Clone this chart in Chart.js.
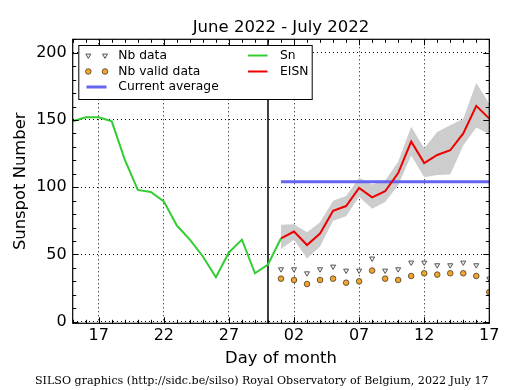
<!DOCTYPE html>
<html><head><meta charset="utf-8">
<script src="https://cdn.jsdelivr.net/npm/chart.js@4"></script>
<style>html,body{margin:0;padding:0;background:#fff;overflow:hidden}</style>
</head><body>
<canvas id="c" width="515" height="390"></canvas>
<script>
// ---------- data ----------
const startDate = '2022-06-15';
const endDate = '2022-07-17';
const snDates = ['2022-06-15','2022-06-16','2022-06-17','2022-06-18','2022-06-19','2022-06-20','2022-06-21','2022-06-22','2022-06-23','2022-06-24','2022-06-25','2022-06-26','2022-06-27','2022-06-28','2022-06-29','2022-06-30','2022-07-01'];
const snValues = [149, 152, 152, 149, 120.5, 98, 96.5, 89.5, 71.5, 61, 48.5, 33, 51.5, 61, 36, 42.5, 62];
const eisnDates = ['2022-07-01','2022-07-02','2022-07-03','2022-07-04','2022-07-05','2022-07-06','2022-07-07','2022-07-08','2022-07-09','2022-07-10','2022-07-11','2022-07-12','2022-07-13','2022-07-14','2022-07-15','2022-07-16','2022-07-17'];
const eisnValues = [62, 67, 57, 65.5, 82.5, 86, 99.5, 92.5, 97, 110.5, 134, 118, 124, 127.5, 140, 160.5, 151];
const eisnUpper  = [72, 72.5, 66.5, 74, 90, 93.5, 107, 102, 105, 119, 145, 129, 141, 146, 151, 177.5, 162];
const eisnLower  = [54, 61, 47, 56, 75, 78.5, 93, 84, 89, 101.5, 123.5, 107.5, 109, 109.5, 131, 144.5, 139.5];
const nbData  = [39, 39, 36, 39, 41, 38, 38, 47, 38, 39, 44, 44, 42, 42, 44, 42, 32];
const nbValid = [32, 31, 28, 31, 32, 29, 30, 38, 32, 31, 34, 36, 35, 36, 36, 34, 22];
const currentAverage = 104;
const averageDates = ['2022-07-01','2022-07-17'];
const separatorDate = '2022-06-30';
const tickDates = ['2022-06-17','2022-06-22','2022-06-27','2022-07-02','2022-07-07','2022-07-12','2022-07-17'];
const tickLabels = ['17','22','27','02','07','12','17'];
const yTicks = [0, 50, 100, 150, 200];
const yMinorStep = 10;
const titleText = 'June 2022 - July 2022';
const xTitle = 'Day of month';
const yTitle = 'Sunspot Number';
const footerText = 'SILSO graphics (http://sidc.be/silso) Royal Observatory of Belgium, 2022 July 17';

// ---------- helpers ----------
const DAY = 86400000;
const toX = d => (Date.parse(d) - Date.parse(startDate)) / DAY;
const xMax = toX(endDate);
const pts = (dates, vals) => dates.map((d, i) => ({x: toX(d), y: vals[i]}));

const FONT = 'DejaVu Sans';
const C_GREEN = '#33cc33', C_RED = '#ee0000', C_BLUE = '#6464f0', C_BAND = '#cdcdcd';
const C_ORANGE = '#efa532', C_TRI = '#f2f2f2';

const decor = {
  id: 'decor',
  beforeDatasetsDraw(chart) {
    const {ctx, chartArea: a, scales: {x}} = chart;
    ctx.save();
    ctx.strokeStyle = '#000'; ctx.lineWidth = 1.5;
    const sx = x.getPixelForValue(toX(separatorDate));
    ctx.beginPath(); ctx.moveTo(sx, a.top); ctx.lineTo(sx, a.bottom); ctx.stroke();
    ctx.restore();
  },
  afterDraw(chart) {
    const {ctx, chartArea: a, scales: {x, y}} = chart;
    ctx.save();
    // frame
    ctx.strokeStyle = '#000'; ctx.lineWidth = 1.2;
    ctx.strokeRect(a.left, a.top, a.right - a.left, a.bottom - a.top);
    // ticks
    ctx.lineWidth = 1;
    ctx.beginPath();
    const maj = 6, mnr = 3.5;
    const majX = tickDates.map(toX);
    for (let d = 0; d <= xMax; d++) {
      const px = Math.round(x.getPixelForValue(d)) + 0.5;
      const L = majX.includes(d) ? maj : mnr;
      ctx.moveTo(px, a.bottom); ctx.lineTo(px, a.bottom - L);
      ctx.moveTo(px, a.top); ctx.lineTo(px, a.top + L);
    }
    for (let v = 0; v <= y.max; v += yMinorStep) {
      const py = Math.round(y.getPixelForValue(v)) + 0.5;
      const L = yTicks.includes(v) ? maj : mnr;
      ctx.moveTo(a.left, py); ctx.lineTo(a.left + L, py);
      ctx.moveTo(a.right, py); ctx.lineTo(a.right - L, py);
    }
    ctx.stroke();

    // title
    ctx.fillStyle = '#000';
    ctx.textAlign = 'center'; ctx.textBaseline = 'alphabetic';
    ctx.font = '16.5px "' + FONT + '"';
    ctx.fillText(titleText, (a.left + a.right) / 2, 32.3);
    ctx.font = '16.4px "' + FONT + '"';
    ctx.fillText(xTitle, (a.left + a.right) / 2, 363.3);
    ctx.save();
    ctx.translate(21, (a.top + a.bottom) / 2);
    ctx.rotate(-Math.PI / 2);
    ctx.textBaseline = 'middle';
    ctx.fillText(yTitle, 0, 0);
    ctx.restore();

    // footer
    ctx.font = '10px "DejaVu Serif"';
    const w10 = ctx.measureText(footerText).width;
    const fs = 10 * 453.7 / w10;
    ctx.font = fs.toFixed(2) + 'px "DejaVu Serif"';
    ctx.textAlign = 'left'; ctx.textBaseline = 'middle';
    ctx.fillText(footerText, 35, 381.5);

    // legend
    const lx = 78.3, ly = 45, lw = 233.4, lh = 54;
    ctx.fillStyle = '#fff';
    ctx.fillRect(lx, ly, lw, lh);
    ctx.strokeStyle = '#000'; ctx.lineWidth = 1;
    ctx.strokeRect(lx + 0.5, ly + 0.5, lw, lh);
    const rows = [55.5, 71.5, 87];
    const tri = (cx, cy) => {
      const r = 2.9;
      ctx.beginPath();
      ctx.moveTo(cx - r * 0.866, cy - r * 0.5);
      ctx.lineTo(cx + r * 0.866, cy - r * 0.5);
      ctx.lineTo(cx, cy + r);
      ctx.closePath();
      ctx.fillStyle = C_TRI; ctx.fill();
      ctx.strokeStyle = '#555'; ctx.lineWidth = 1; ctx.stroke();
    };
    const circ = (cx, cy) => {
      ctx.beginPath(); ctx.arc(cx, cy, 2.8, 0, Math.PI * 2);
      ctx.fillStyle = C_ORANGE; ctx.fill();
      ctx.strokeStyle = '#4a3a20'; ctx.lineWidth = 0.8; ctx.stroke();
    };
    tri(88.3, rows[0]); tri(105, rows[0]);
    circ(88.3, rows[1]); circ(105, rows[1]);
    ctx.lineCap = 'butt';
    ctx.strokeStyle = C_BLUE; ctx.lineWidth = 3;
    ctx.beginPath(); ctx.moveTo(86.5, rows[2]); ctx.lineTo(106.5, rows[2]); ctx.stroke();
    ctx.strokeStyle = C_GREEN; ctx.lineWidth = 2;
    ctx.beginPath(); ctx.moveTo(248, rows[0]); ctx.lineTo(267.5, rows[0]); ctx.stroke();
    ctx.strokeStyle = C_RED; ctx.lineWidth = 2;
    ctx.beginPath(); ctx.moveTo(248, rows[1]); ctx.lineTo(267.5, rows[1]); ctx.stroke();
    ctx.fillStyle = '#000';
    ctx.font = '12.3px "' + FONT + '"';
    ctx.textAlign = 'left'; ctx.textBaseline = 'middle';
    ctx.fillText('Nb data', 118.3, rows[0]);
    ctx.fillText('Nb valid data', 118.3, rows[1]);
    ctx.fillText('Current average', 118.3, rows[2]);
    ctx.fillText('Sn', 280, rows[0]);
    ctx.fillText('EISN', 280, rows[1]);
    ctx.restore();
  }
};

new Chart(document.getElementById('c'), {
  type: 'line',
  data: {
    datasets: [
      { label: 'Nb valid data', data: pts(eisnDates, nbValid), showLine: false,
        pointStyle: 'circle', pointRadius: 2.8, pointBackgroundColor: C_ORANGE,
        pointBorderColor: '#4a3a20', pointBorderWidth: 0.8, clip: 0, order: 1 },
      { label: 'Nb data', data: pts(eisnDates, nbData), showLine: false,
        pointStyle: 'triangle', rotation: 180, pointRadius: 2.9, pointBackgroundColor: C_TRI,
        pointBorderColor: '#555', pointBorderWidth: 1, clip: 0, order: 2 },
      { label: 'EISN', data: pts(eisnDates, eisnValues), borderColor: C_RED, borderWidth: 2,
        pointRadius: 0, tension: 0, fill: false, order: 3 },
      { label: 'Sn', data: pts(snDates, snValues), borderColor: C_GREEN, borderWidth: 2,
        pointRadius: 0, tension: 0, fill: false, order: 4 },
      { label: 'Current average', data: pts(averageDates, [currentAverage, currentAverage]),
        borderColor: C_BLUE, borderWidth: 3, pointRadius: 0, fill: false, order: 5 },
      { label: 'EISN upper', data: pts(eisnDates, eisnUpper), borderWidth: 0, borderColor: 'rgba(0,0,0,0)',
        backgroundColor: C_BAND, pointRadius: 0, tension: 0, fill: '+1', order: 6 },
      { label: 'EISN lower', data: pts(eisnDates, eisnLower), borderWidth: 0, borderColor: 'rgba(0,0,0,0)',
        pointRadius: 0, tension: 0, fill: false, order: 7 }
    ]
  },
  options: {
    responsive: false, animation: false, devicePixelRatio: 1,
    layout: { padding: { left: 0, right: 25.7, top: 39.3, bottom: 0 } },
    plugins: { legend: { display: false }, tooltip: { enabled: false }, title: { display: false } },
    scales: {
      x: {
        type: 'linear', min: 0, max: xMax,
        afterBuildTicks: s => { s.ticks = tickDates.map(d => ({ value: toX(d) })); },
        afterFit: s => { s.height = 66.7; },
        ticks: { callback: (v, i) => tickLabels[i], autoSkip: false, maxRotation: 0,
                 font: { family: FONT, size: 16 }, color: '#000', padding: 3 },
        grid: { color: '#000', lineWidth: 1, drawTicks: false },
        border: { display: false, dash: [1, 3] }
      },
      y: {
        type: 'linear', min: -1.2, max: 210,
        afterBuildTicks: s => { s.ticks = yTicks.map(v => ({ value: v })); },
        afterFit: s => { s.width = 72.7; },
        ticks: { font: { family: FONT, size: 16 }, color: '#000', padding: 6 },
        grid: { color: '#000', lineWidth: 1, drawTicks: false },
        border: { display: false, dash: [1, 3] }
      }
    }
  },
  plugins: [decor]
});
</script>
</body></html>
